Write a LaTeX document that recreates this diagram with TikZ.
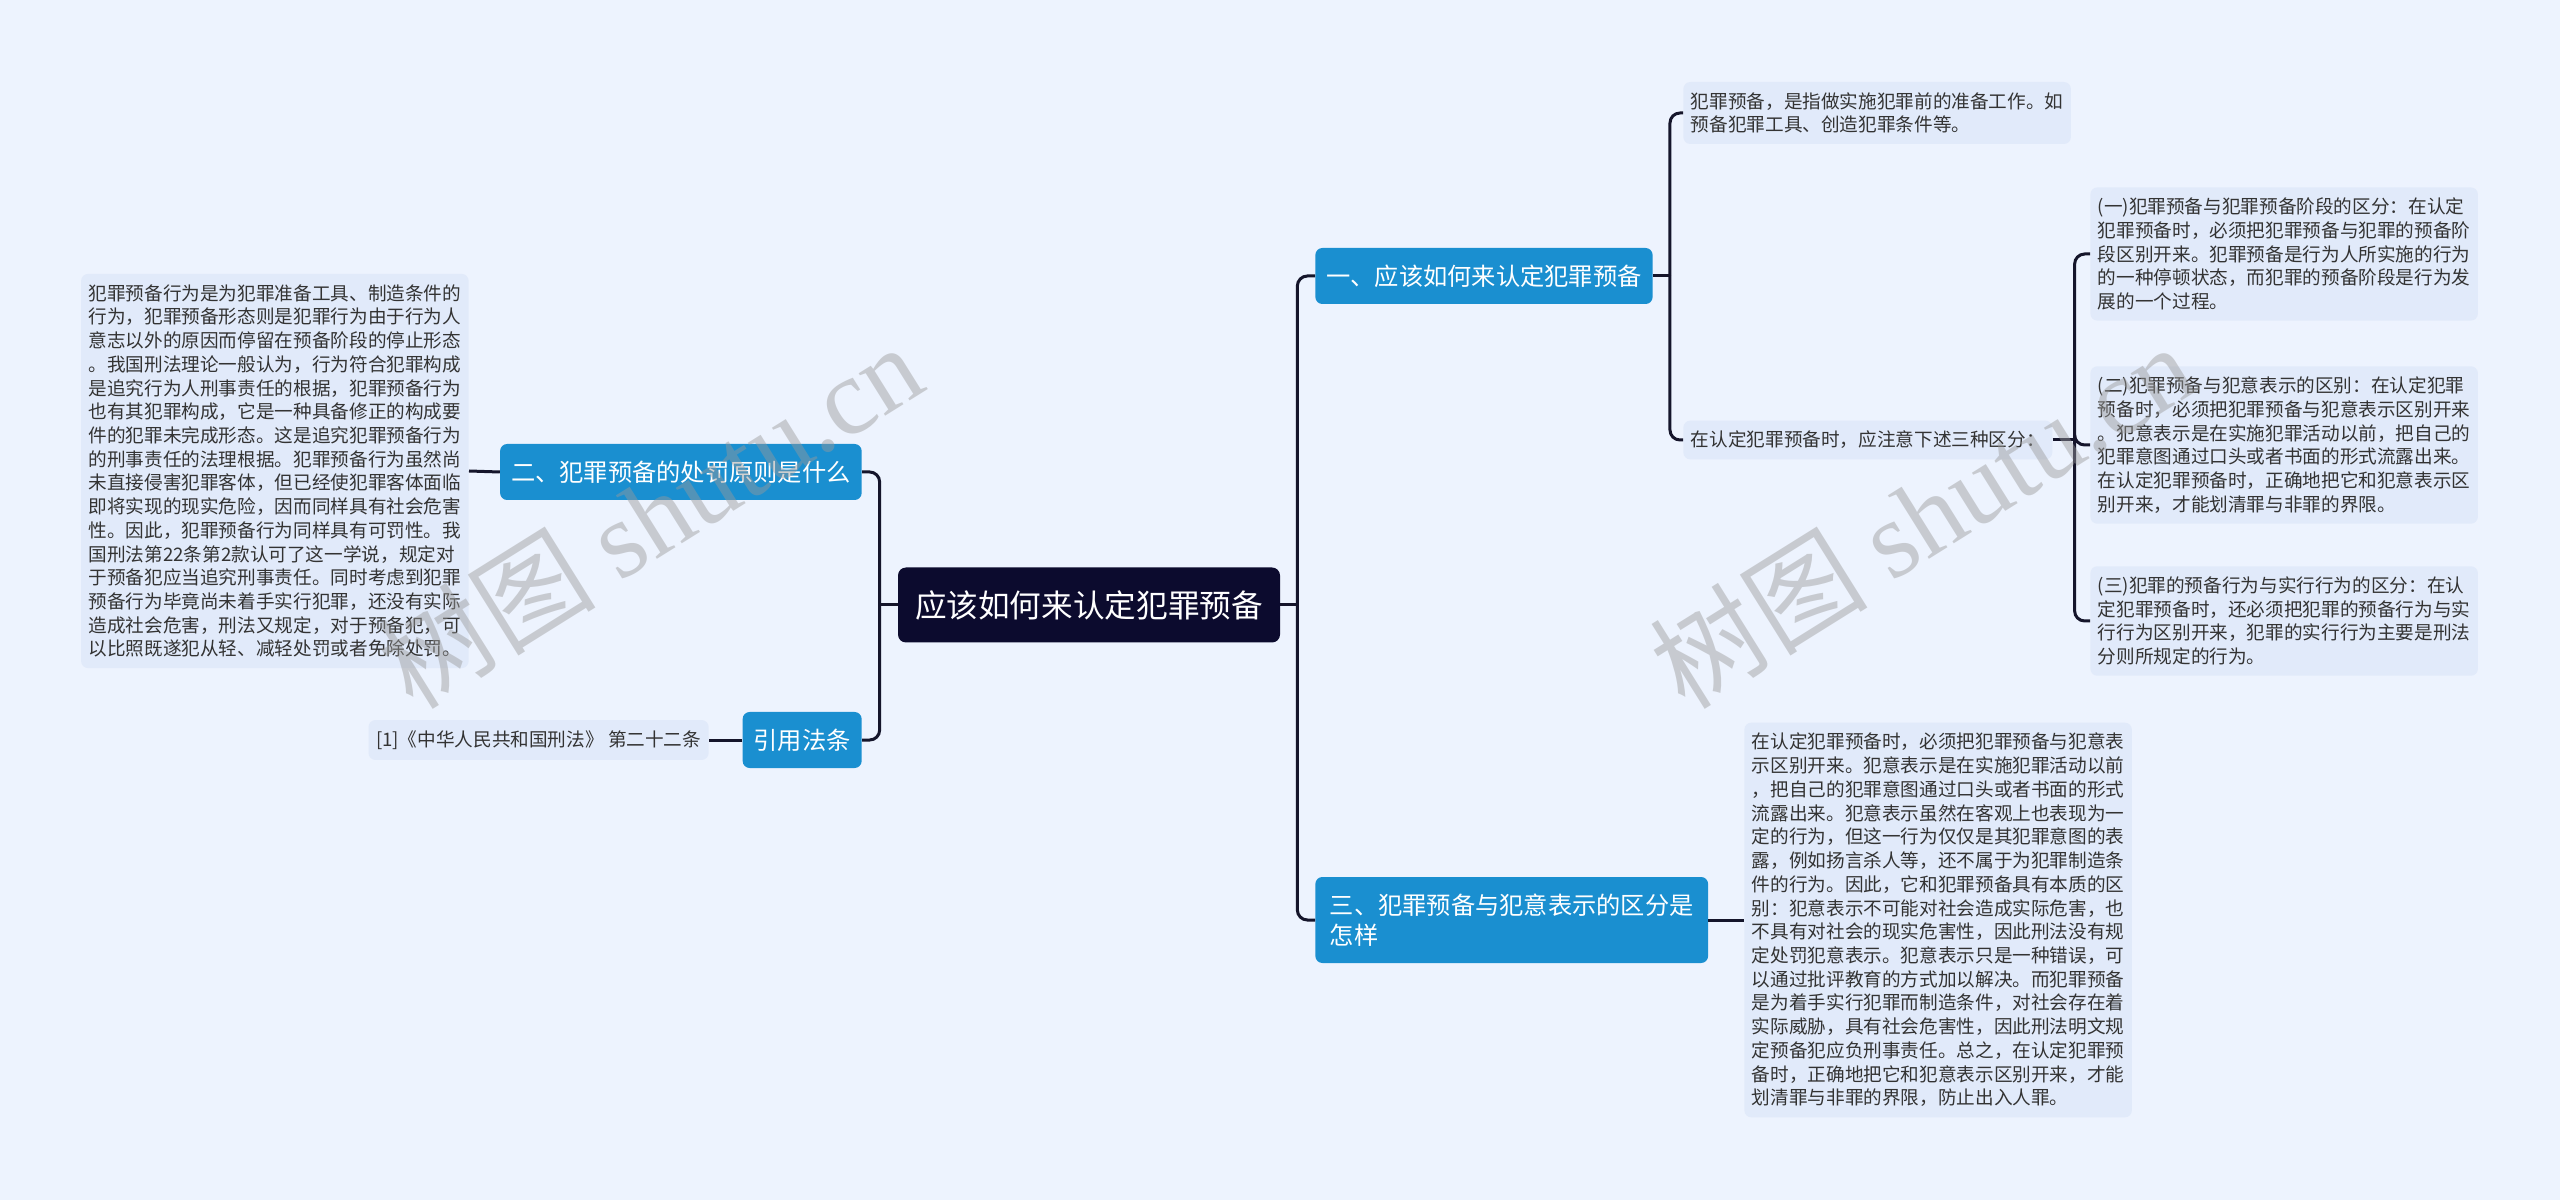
\documentclass[tikz,border=0pt]{standalone}
\usepackage{fontspec}
\setmainfont{Noto Sans CJK SC}
\newfontfamily\wmlatin{Liberation Serif}
\usetikzlibrary{calc}
\definecolor{pagebg}{HTML}{EDF3FE}
\definecolor{rootnavy}{HTML}{0C0B2E}
\definecolor{branchblue}{HTML}{1A8FD0}
\definecolor{leaffill}{HTML}{E1EAFA}
\definecolor{leaftext}{HTML}{333333}
\definecolor{linkdark}{HTML}{15152B}
\definecolor{wmgray}{HTML}{9A9A9A}

\begin{document}
\begin{tikzpicture}[x=0.2mm,y=-0.2mm,
  rootbox/.style={fill=rootnavy,text=white,rounded corners=1.6mm,
    minimum width=76.4mm,minimum height=15mm,inner sep=0pt,
    font=\fontsize{18pt}{22pt}\selectfont},
  branchbox/.style={fill=branchblue,text=white,rounded corners=1.4mm,
    inner xsep=2.2mm,inner ysep=1mm,minimum height=11.2mm,align=left,
    font=\fontsize{13.8pt}{17pt}\selectfont},
  leafbox/.style={fill=leaffill,text=leaftext,rounded corners=1.4mm,
    inner xsep=1.5mm,inner ysep=2.1mm,align=left,
    font=\fontsize{10.6pt}{13.5pt}\selectfont},
  link/.style={draw=linkdark,line width=0.6mm,rounded corners=2mm},
  watermark/.style={text=wmgray,opacity=0.45,rotate=32,
    font=\fontsize{62pt}{62pt}\selectfont}]
  \fill[pagebg] (0,0) rectangle (2560,1200);
  \useasboundingbox (0,0) rectangle (2560,1200);

  \node[rootbox] (root) at (1089,605) {应该如何来认定犯罪预备};

  \node[branchbox,anchor=west] (b1) at (1315,276) {一、应该如何来认定犯罪预备};
  \node[branchbox,anchor=east] (b2) at (862,472) {二、犯罪预备的处罚原则是什么};
  \node[branchbox,anchor=east] (b3) at (862,740) {引用法条};
  \node[branchbox,anchor=west,minimum height=17.2mm,inner xsep=2.9mm] (b4) at (1315,920)
    {三、犯罪预备与犯意表示的区分是\\怎样};

  \node[leafbox,anchor=east] (l1) at (469,471)
    {犯罪预备行为是为犯罪准备工具、制造条件的\\
     行为，犯罪预备形态则是犯罪行为由于行为人\\
     意志以外的原因而停留在预备阶段的停止形态\\
     。我国刑法理论一般认为，行为符合犯罪构成\\
     是追究行为人刑事责任的根据，犯罪预备行为\\
     也有其犯罪构成，它是一种具备修正的构成要\\
     件的犯罪未完成形态。这是追究犯罪预备行为\\
     的刑事责任的法理根据。犯罪预备行为虽然尚\\
     未直接侵害犯罪客体，但已经使犯罪客体面临\\
     即将实现的现实危险，因而同样具有社会危害\\
     性。因此，犯罪预备行为同样具有可罚性。我\\
     国刑法第22条第2款认可了这一学说，规定对\\
     于预备犯应当追究刑事责任。同时考虑到犯罪\\
     预备行为毕竟尚未着手实行犯罪，还没有实际\\
     造成社会危害，刑法又规定，对于预备犯，可\\
     以比照既遂犯从轻、减轻处罚或者免除处罚。};
  \node[leafbox,anchor=east] (ref) at (709,740)
    {[1]《中华人民共和国刑法》 第二十二条};

  \node[leafbox,anchor=west] (c1) at (1683,113)
    {犯罪预备，是指做实施犯罪前的准备工作。如\\
     预备犯罪工具、创造犯罪条件等。};
  \node[leafbox,anchor=west] (c2) at (1683,440)
    {在认定犯罪预备时，应注意下述三种区分：};

  \node[leafbox,anchor=west] (s1) at (2090,254)
    {(一)犯罪预备与犯罪预备阶段的区分：在认定\\
     犯罪预备时，必须把犯罪预备与犯罪的预备阶\\
     段区别开来。犯罪预备是行为人所实施的行为\\
     的一种停顿状态，而犯罪的预备阶段是行为发\\
     展的一个过程。};
  \node[leafbox,anchor=west] (s2) at (2090,445)
    {(二)犯罪预备与犯意表示的区别：在认定犯罪\\
     预备时，必须把犯罪预备与犯意表示区别开来\\
     。犯意表示是在实施犯罪活动以前，把自己的\\
     犯罪意图通过口头或者书面的形式流露出来。\\
     在认定犯罪预备时，正确地把它和犯意表示区\\
     别开来，才能划清罪与非罪的界限。};
  \node[leafbox,anchor=west] (s3) at (2090,621)
    {(三)犯罪的预备行为与实行行为的区分：在认\\
     定犯罪预备时，还必须把犯罪的预备行为与实\\
     行行为区别开来，犯罪的实行行为主要是刑法\\
     分则所规定的行为。};

  \node[leafbox,anchor=west] (d1) at (1744,920)
    {在认定犯罪预备时，必须把犯罪预备与犯意表\\
     示区别开来。犯意表示是在实施犯罪活动以前\\
     ，把自己的犯罪意图通过口头或者书面的形式\\
     流露出来。犯意表示虽然在客观上也表现为一\\
     定的行为，但这一行为仅仅是其犯罪意图的表\\
     露，例如扬言杀人等，还不属于为犯罪制造条\\
     件的行为。因此，它和犯罪预备具有本质的区\\
     别：犯意表示不可能对社会造成实际危害，也\\
     不具有对社会的现实危害性，因此刑法没有规\\
     定处罚犯意表示。犯意表示只是一种错误，可\\
     以通过批评教育的方式加以解决。而犯罪预备\\
     是为着手实行犯罪而制造条件，对社会存在着\\
     实际威胁，具有社会危害性，因此刑法明文规\\
     定预备犯应负刑事责任。总之，在认定犯罪预\\
     备时，正确地把它和犯意表示区别开来，才能\\
     划清罪与非罪的界限，防止出入人罪。};

  \coordinate (rj) at ($(root.east)+(17,0)$);
  \coordinate (lj) at ($(root.west)+(-18,0)$);
  \coordinate (j1) at ($(b1.east)+(17,0)$);
  \coordinate (j2) at ($(c2.east)+(22,0)$);

  \draw[link] (root.east) -- (rj);
  \draw[link] (rj) |- (b1.west);
  \draw[link] (rj) |- (b4.west);
  \draw[link] (root.west) -- (lj);
  \draw[link] (lj) |- (b2.east);
  \draw[link] (lj) |- (b3.east);
  \draw[link] (b2.west) -- (l1.east);
  \draw[link] (b3.west) -- (ref.east);
  \draw[link] (b1.east) -- (j1);
  \draw[link] (j1) |- (c1.west);
  \draw[link] (j1) |- (c2.west);
  \draw[link] (c2.east) -- (j2);
  \draw[link] (j2) |- (s1.west);
  \draw[link] (j2) |- (s2.west);
  \draw[link] (j2) |- (s3.west);
  \draw[link] (b4.east) -- (d1.west);

  \node[watermark] (wm1) at (650,515) {树图 {\wmlatin shutu.cn}};
  \node[watermark] (wm2) at (1922,515) {树图 {\wmlatin shutu.cn}};
\end{tikzpicture}
\end{document}
